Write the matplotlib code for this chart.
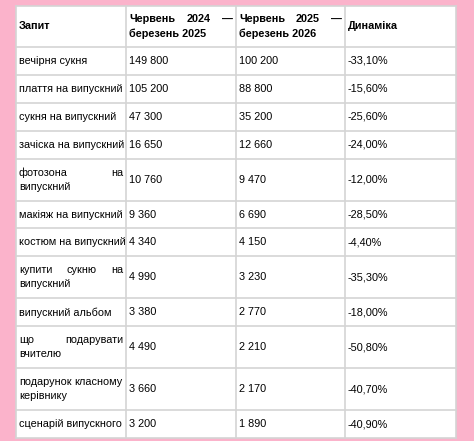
import matplotlib
matplotlib.use("Agg")
import matplotlib.pyplot as plt
from matplotlib.lines import Line2D

headers = [["Запит"], ["Червень 2024 —", "березень 2025"], ["Червень 2025 —", "березень 2026"], ["Динаміка"]]
queries = [["вечірня сукня"], ["плаття на випускний"], ["сукня на випускний"], ["зачіска на випускний"],
           ["фотозона на", "випускний"], ["макіяж на випускний"], ["костюм на випускний"],
           ["купити сукню на", "випускний"], ["випускний альбом"], ["що подарувати", "вчителю"],
           ["подарунок класному", "керівнику"], ["сценарій випускного"]]
v2024 = ["149 800", "105 200", "47 300", "16 650", "10 760", "9 360", "4 340", "4 990", "3 380", "4 490", "3 660", "3 200"]
v2025 = ["100 200", "88 800", "35 200", "12 660", "9 470", "6 690", "4 150", "3 230", "2 770", "2 210", "2 170", "1 890"]
dyn = ["-33,10%", "-15,60%", "-25,60%", "-24,00%", "-12,00%", "-28,50%", "-4,40%", "-35,30%", "-18,00%", "-50,80%", "-40,70%", "-40,90%"]

W, H = 474, 441
fig = plt.figure(figsize=(W/100, H/100), dpi=100, facecolor="#fbb3cb")
ax = fig.add_axes([0, 0, 1, 1])
ax.set_xlim(0, W); ax.set_ylim(H, 0); ax.axis("off")
renderer = fig.canvas.get_renderer()

L, R, T, B = 16, 456, 6, 438
cols = [L, 126, 236, 345, R]
ax.add_patch(plt.Rectangle((L, T), R-L, B-T, facecolor="white", edgecolor="none"))

heights = [41] + [28 if len(q) == 1 else 42 for q in queries]
scale = (B - T) / sum(heights)
ys = [T]
for h in heights:
    ys.append(ys[-1] + h*scale)

lc = "#d4d4d4"
for x in cols:
    ax.add_line(Line2D([x, x], [T, B], color=lc, lw=1.2))
for y in ys:
    ax.add_line(Line2D([L, R], [y, y], color=lc, lw=1.2))

fs = 7.8
fam = ["Liberation Sans", "DejaVu Sans"]

def txt(x, y, s, bold):
    return ax.text(x, y, s, ha="left", va="center", fontsize=fs, family=fam,
                   fontweight="bold" if bold else "normal")

def draw_cell(lines, ci, ri, bold=False):
    x0, x1 = cols[ci] + 3, cols[ci+1] - 3
    y0, y1 = ys[ri], ys[ri+1]
    n = len(lines)
    lh = 14
    yc = (y0 + y1) / 2 - (n - 1) * lh / 2
    for k, line in enumerate(lines):
        y = yc + k * lh
        words = line.split(" ")
        if n > 1 and k < n - 1 and len(words) > 1:
            objs = [txt(x0, y, w, bold) for w in words]
            widths = [o.get_window_extent(renderer).width for o in objs]
            gap = (x1 - x0 - sum(widths)) / (len(words) - 1)
            x = x0
            for o, w in zip(objs, widths):
                o.set_x(x)
                x += w + gap
        else:
            txt(x0, y, line, bold)

for ci, h in enumerate(headers):
    draw_cell(h, ci, 0, bold=True)
for i in range(len(queries)):
    draw_cell(queries[i], 0, i+1)
    draw_cell([v2024[i]], 1, i+1)
    draw_cell([v2025[i]], 2, i+1)
    draw_cell([dyn[i]], 3, i+1)

fig.savefig("out.png", dpi=100, facecolor=fig.get_facecolor())
